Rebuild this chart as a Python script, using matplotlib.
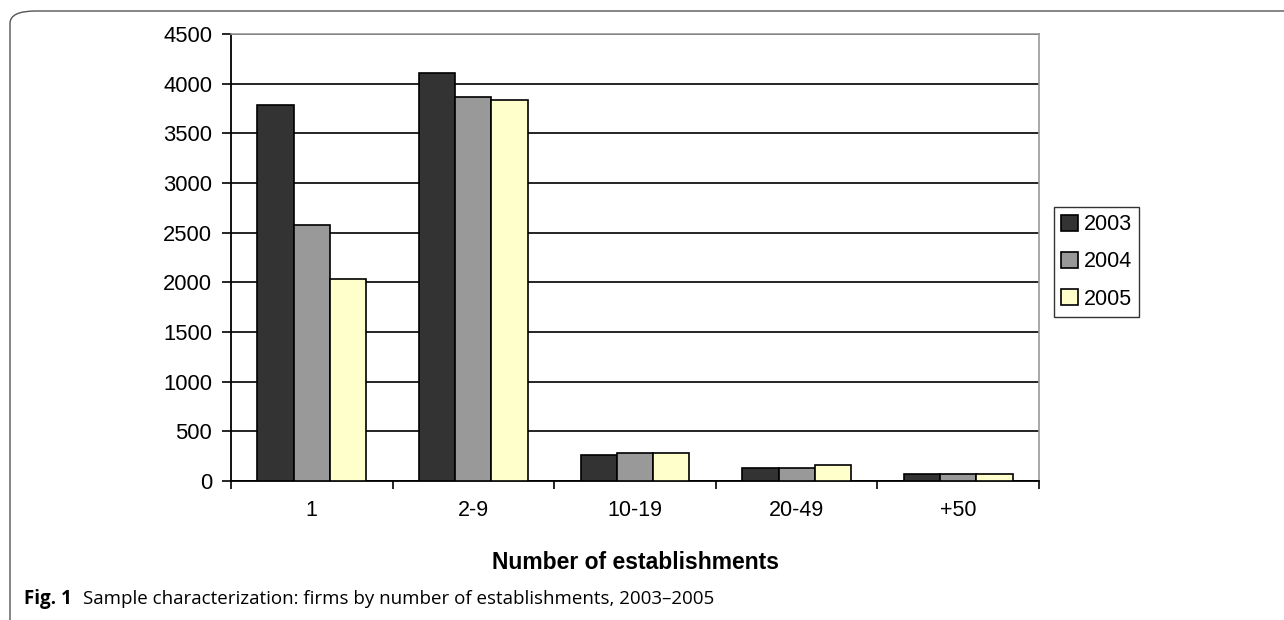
import numpy as np
import matplotlib.pyplot as plt
from matplotlib.patches import FancyBboxPatch

categories = ['1', '2-9', '10-19', '20-49', '+50']
years = ['2003', '2004', '2005']
v2003 = [3790, 4110, 265, 130, 70]
v2004 = [2580, 3870, 280, 130, 70]
v2005 = [2030, 3840, 280, 165, 70]
colors = ['#333333', '#999999', '#ffffcc']

plt.rcParams['font.family'] = ['Liberation Sans', 'DejaVu Sans']

fig = plt.figure(figsize=(12.84, 6.2), dpi=100)
ax = fig.add_axes([0.1799, 0.2242, 0.6293, 0.721])

x = np.arange(len(categories))
w = 0.224
for i, (vals, c, lab) in enumerate(zip([v2003, v2004, v2005], colors, years)):
    ax.bar(x + (i - 1) * w, vals, width=w, color=c, edgecolor='black',
           linewidth=1.2, label=lab, zorder=3)

ax.set_xlim(-0.5, len(categories) - 0.5)
ax.set_ylim(0, 4500)
ax.set_yticks(np.arange(0, 4501, 500))
ax.yaxis.grid(True, color='black', linewidth=1.2, zorder=0)
ax.set_axisbelow(True)

ax.set_xticks(x)
ax.set_xticklabels(categories, fontsize=15.5)
ax.set_xticks(np.arange(-0.5, len(categories), 1), minor=True)
ax.tick_params(axis='x', which='major', length=0, pad=13.5)
ax.tick_params(axis='x', which='minor', length=6, width=1.2, direction='out')
ax.tick_params(axis='y', length=6.5, width=1.2, labelsize=15.8, pad=7)

for s in ['left', 'bottom']:
    ax.spines[s].set_linewidth(1.3)
for s in ['top', 'right']:
    ax.spines[s].set_color('#999999')
    ax.spines[s].set_linewidth(1.2)

ax.set_xlabel('Number of establishments', fontsize=16.5, fontweight='bold')
ax.xaxis.set_label_coords(0.5, -0.157)

leg = ax.legend(loc='center left', bbox_to_anchor=(1.018, 0.49), fontsize=15.5,
                frameon=True, fancybox=False, edgecolor='black',
                handlelength=0.8, handleheight=0.8, handletextpad=0.25,
                labelspacing=0.75, borderpad=0.35, borderaxespad=0)
leg.get_frame().set_linewidth(1.0)

# outer rounded frame
frame = FancyBboxPatch((10 / 1284, -0.1), 1.2, (620 - 11) / 620 + 0.1,
                       boxstyle='round,pad=0,rounding_size=0.02',
                       transform=fig.transFigure, fill=False,
                       edgecolor='#555555', linewidth=1.0)
fig.patches.append(frame)

fig.text(24 / 1284, 1 - 599 / 620, 'Fig. 1', fontsize=13.5, fontweight='bold',
         family=['Open Sans', 'DejaVu Sans'], va='center')
fig.text(83 / 1284, 1 - 599 / 620,
         'Sample characterization: firms by number of establishments, 2003\u20132005',
         fontsize=13.5, family=['Open Sans', 'DejaVu Sans'], va='center')

fig.savefig('out.png', dpi=100)
